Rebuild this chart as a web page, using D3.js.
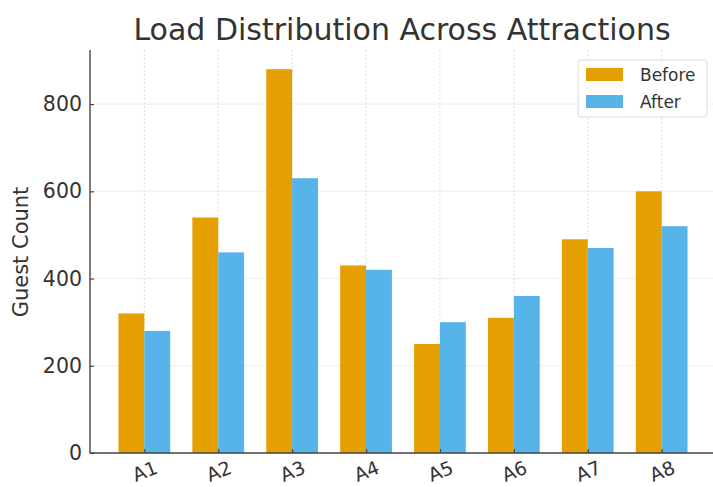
<!DOCTYPE html>
<html>
<head>
<meta charset="utf-8">
<script src="https://cdn.jsdelivr.net/npm/d3@7"></script>
<style>
  html, body { margin: 0; padding: 0; background: #fff; }
  svg { display: block; font-family: "DejaVu Sans", sans-serif; }
</style>
</head>
<body>
<svg id="chart" width="713" height="487"></svg>
<script>
// Guest counts per attraction, before and after load balancing
const attractions = ["A1", "A2", "A3", "A4", "A5", "A6", "A7", "A8"];
const before = [320, 540, 880, 430, 250, 310, 490, 600];
const after = [280, 460, 630, 420, 300, 360, 470, 520];
const yTicks = [0, 200, 400, 600, 800];
const seriesNames = ["Before", "After"];
const seriesColors = ["#E69F00", "#56B4E9"];

const svg = d3.select("#chart");
const W = 713, H = 487;
const plot = { left: 90, right: 716, top: 50, bottom: 453 };
const barW = 0.35;
const textColor = "#333";

// linear index scale so the bars sit like a grouped bar plot with margins
const x = d3.scaleLinear()
  .domain([-0.35 - 0.385, 7.35 + 0.385])
  .range([plot.left, plot.right]);
const yMax = 880 * 1.05;
const y = d3.scaleLinear().domain([0, yMax]).range([plot.bottom, plot.top]);

svg.append("defs").append("clipPath").attr("id", "plotclip")
  .append("rect").attr("x", plot.left).attr("y", plot.top)
  .attr("width", plot.right - plot.left).attr("height", plot.bottom - plot.top);

// grid
const grid = svg.append("g");
grid.selectAll("line.h").data(yTicks).join("line")
  .attr("x1", plot.left).attr("x2", W)
  .attr("y1", d => y(d)).attr("y2", d => y(d))
  .attr("stroke", "#ebebeb").attr("stroke-width", 0.8);
grid.selectAll("line.v").data(attractions).join("line")
  .attr("x1", (d, i) => x(i)).attr("x2", (d, i) => x(i))
  .attr("y1", plot.top).attr("y2", plot.bottom)
  .attr("stroke", "#d6d6d6").attr("stroke-width", 0.8)
  .attr("stroke-dasharray", "2,2");

// bars
const series = [before, after];
const bars = svg.append("g").attr("clip-path", "url(#plotclip)");
series.forEach((vals, s) => {
  bars.selectAll("rect.s" + s).data(vals).join("rect")
    .attr("class", "s" + s)
    .attr("x", (d, i) => x(i + (s === 0 ? -barW : 0)))
    .attr("width", x(barW) - x(0))
    .attr("y", d => y(d))
    .attr("height", d => y(0) - y(d))
    .attr("fill", seriesColors[s]);
});

// axes (ticks point inward)
const yAxis = d3.axisLeft(y).tickValues(yTicks).tickSize(-4).tickPadding(8).tickFormat(d3.format("d"));
const gy = svg.append("g").attr("transform", `translate(${plot.left},0)`).call(yAxis);
gy.select(".domain").attr("d", `M0,${plot.top}V${plot.bottom}`).attr("stroke", "#444").attr("stroke-width", 1.4);
gy.selectAll(".tick line").attr("stroke", "#444").attr("stroke-width", 1.2);
gy.selectAll(".tick text").attr("font-size", 20.5).attr("fill", textColor)
  .attr("font-family", "DejaVu Sans, sans-serif").attr("x", -8);

const xAxis = d3.axisBottom(x).tickValues(d3.range(attractions.length))
  .tickFormat(i => attractions[i]).tickSize(-4);
const gx = svg.append("g").attr("transform", `translate(0,${plot.bottom})`).call(xAxis);
gx.select(".domain").attr("d", `M${plot.left},0H${plot.right}`).attr("stroke", "#444").attr("stroke-width", 1.4);
gx.selectAll(".tick line").attr("stroke", "#444").attr("stroke-width", 1.2);
gx.selectAll(".tick text")
  .attr("font-size", 19).attr("fill", textColor)
  .attr("font-family", "DejaVu Sans, sans-serif")
  .attr("text-anchor", "middle")
  .attr("y", 0).attr("dy", "0.36em")
  .attr("transform", "translate(0,18) rotate(-22)");

// title and axis label
svg.append("text").attr("x", 402).attr("y", 40)
  .attr("text-anchor", "middle").attr("font-size", 30).attr("fill", textColor)
  .text("Load Distribution Across Attractions");
svg.append("text")
  .attr("transform", "translate(28,252) rotate(-90)")
  .attr("text-anchor", "middle").attr("font-size", 21).attr("fill", textColor)
  .text("Guest Count");

// legend
const lg = svg.append("g").attr("transform", "translate(578,60)");
lg.append("rect").attr("width", 129).attr("height", 57).attr("rx", 3)
  .attr("fill", "#fff").attr("fill-opacity", 0.85)
  .attr("stroke", "#dcdcdc").attr("stroke-width", 1);
seriesNames.forEach((name, i) => {
  lg.append("rect").attr("x", 8).attr("y", 8 + i * 27).attr("width", 37).attr("height", 13)
    .attr("fill", seriesColors[i]);
  lg.append("text").attr("x", 62).attr("y", 21 + i * 27)
    .attr("font-size", 17).attr("fill", textColor).text(name);
});
</script>
</body>
</html>
